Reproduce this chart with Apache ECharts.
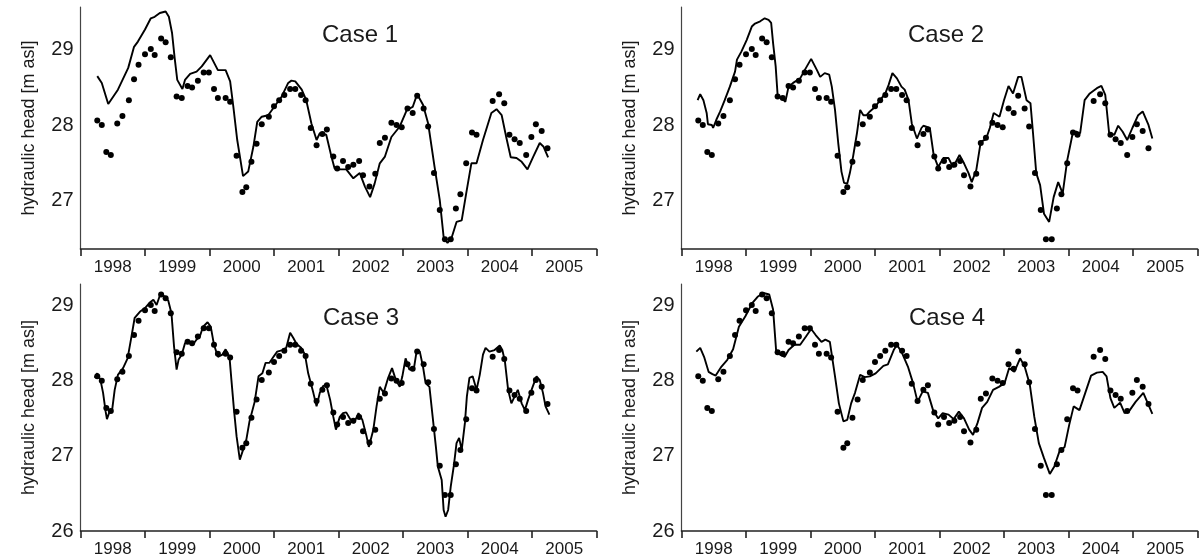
<!DOCTYPE html>
<html>
<head>
<meta charset="utf-8">
<script src="https://cdn.jsdelivr.net/npm/echarts@6/dist/echarts.min.js"></script>
<style>
html,body{margin:0;padding:0;background:#fff;}
#chart{width:1204px;height:558px;}
</style>
</head>
<body>
<div id="chart"></div>
<script>
// ---------- DATA ----------
const yearLabels = ['1998','1999','2000','2001','2002','2003','2004','2005'];
const panelTitles = ['Case 1','Case 2','Case 3','Case 4'];
const yTicksTop = [27, 28, 29];
const yTicksBottom = [26, 27, 28, 29];

// observed hydraulic head [year, m asl] (same in every panel)
const observed = [
[1998.26,28.06],[1998.33,28.00],[1998.40,27.64],[1998.47,27.60],[1998.57,28.02],[1998.65,28.12],
[1998.75,28.33],[1998.83,28.61],[1998.90,28.80],[1999.00,28.94],[1999.09,29.01],[1999.15,28.93],
[1999.25,29.15],[1999.32,29.10],[1999.40,28.90],[1999.49,28.38],[1999.57,28.36],[1999.66,28.52],
[1999.73,28.50],[1999.82,28.59],[1999.91,28.70],[1999.99,28.70],[2000.07,28.48],[2000.13,28.36],
[2000.25,28.36],[2000.32,28.31],[2000.42,27.59],[2000.51,27.11],[2000.57,27.17],[2000.65,27.51],
[2000.73,27.75],[2000.81,28.01],[2000.92,28.11],[2001.00,28.25],[2001.08,28.33],[2001.16,28.40],
[2001.25,28.48],[2001.33,28.48],[2001.42,28.40],[2001.49,28.33],[2001.57,27.96],[2001.66,27.73],
[2001.75,27.88],[2001.82,27.94],[2001.92,27.58],[2001.98,27.42],[2002.07,27.52],[2002.15,27.44],
[2002.23,27.47],[2002.32,27.52],[2002.38,27.33],[2002.48,27.18],[2002.57,27.35],[2002.64,27.76],
[2002.72,27.83],[2002.82,28.03],[2002.90,28.00],[2002.98,27.97],[2003.07,28.22],[2003.15,28.16],
[2003.22,28.39],[2003.32,28.22],[2003.39,27.98],[2003.48,27.36],[2003.57,26.87],[2003.65,26.48],
[2003.74,26.48],[2003.82,26.89],[2003.89,27.08],[2003.98,27.49],[2004.07,27.90],[2004.14,27.87],
[2004.39,28.32],[2004.49,28.41],[2004.57,28.29],[2004.65,27.87],[2004.73,27.81],[2004.81,27.76],
[2004.91,27.60],[2004.99,27.84],[2005.06,28.01],[2005.15,27.92],[2005.24,27.69]
];

// simulated hydraulic head, Case 1
const case1 = [
[1998.26,28.65],[1998.33,28.56],[1998.43,28.28],[1998.46,28.26],[1998.58,28.47],[1998.74,28.76],
[1998.83,29.04],[1998.89,29.11],[1999.00,29.27],[1999.09,29.42],[1999.15,29.44],[1999.23,29.49],
[1999.32,29.51],[1999.37,29.44],[1999.42,29.22],[1999.46,28.89],[1999.50,28.60],[1999.58,28.48],
[1999.62,28.60],[1999.70,28.68],[1999.80,28.71],[1999.88,28.78],[2000.01,28.93],[2000.13,28.73],
[2000.25,28.73],[2000.32,28.58],[2000.37,28.24],[2000.43,27.80],[2000.52,27.32],[2000.60,27.38],
[2000.68,27.71],[2000.74,28.04],[2000.81,28.11],[2000.91,28.13],[2001.01,28.25],[2001.12,28.38],
[2001.22,28.56],[2001.27,28.59],[2001.33,28.58],[2001.43,28.47],[2001.50,28.33],[2001.58,28.02],
[2001.66,27.80],[2001.71,27.89],[2001.81,27.87],[2001.89,27.58],[2001.94,27.42],[2002.02,27.41],
[2002.12,27.41],[2002.23,27.29],[2002.33,27.36],[2002.41,27.18],[2002.49,27.04],[2002.56,27.22],
[2002.64,27.49],[2002.72,27.58],[2002.82,27.84],[2002.95,27.98],[2003.06,28.20],[2003.15,28.24],
[2003.22,28.41],[2003.31,28.27],[2003.39,28.02],[2003.49,27.44],[2003.57,27.00],[2003.63,26.51],
[2003.69,26.43],[2003.75,26.49],[2003.83,26.71],[2003.91,26.73],[2003.98,27.09],[2004.06,27.49],
[2004.14,27.49],[2004.24,27.80],[2004.37,28.16],[2004.45,28.21],[2004.53,28.13],[2004.60,27.84],
[2004.67,27.57],[2004.76,27.56],[2004.84,27.51],[2004.93,27.41],[2005.02,27.58],[2005.12,27.76],
[2005.18,27.71],[2005.25,27.57]
];

// simulated hydraulic head, Case 2
const case2 = [
[1998.25,28.33],[1998.29,28.41],[1998.34,28.33],[1998.39,28.16],[1998.41,28.01],[1998.47,28.00],
[1998.49,27.96],[1998.54,28.07],[1998.60,28.18],[1998.67,28.33],[1998.75,28.51],[1998.83,28.71],
[1998.86,28.87],[1998.93,28.98],[1999.01,29.13],[1999.09,29.31],[1999.14,29.35],[1999.22,29.38],
[1999.29,29.42],[1999.35,29.40],[1999.39,29.36],[1999.42,29.09],[1999.46,28.78],[1999.49,28.40],
[1999.55,28.36],[1999.61,28.31],[1999.66,28.51],[1999.73,28.56],[1999.84,28.62],[1999.91,28.73],
[2000.01,28.88],[2000.10,28.73],[2000.15,28.64],[2000.22,28.69],[2000.29,28.67],[2000.33,28.51],
[2000.38,28.20],[2000.43,27.76],[2000.48,27.38],[2000.52,27.23],[2000.57,27.22],[2000.61,27.36],
[2000.66,27.58],[2000.72,27.89],[2000.77,28.20],[2000.82,28.13],[2000.87,28.13],[2000.92,28.18],
[2001.00,28.24],[2001.08,28.33],[2001.16,28.42],[2001.21,28.53],[2001.27,28.69],[2001.34,28.62],
[2001.41,28.51],[2001.46,28.47],[2001.52,28.33],[2001.57,28.02],[2001.65,27.82],[2001.72,27.96],
[2001.75,27.99],[2001.85,27.96],[2001.91,27.60],[2001.98,27.44],[2002.06,27.56],[2002.14,27.56],
[2002.21,27.44],[2002.31,27.60],[2002.38,27.49],[2002.45,27.36],[2002.50,27.24],[2002.57,27.40],
[2002.64,27.78],[2002.72,27.81],[2002.78,27.96],[2002.84,28.16],[2002.93,28.11],[2003.00,28.33],
[2003.07,28.52],[2003.14,28.42],[2003.22,28.64],[2003.27,28.64],[2003.35,28.33],[2003.41,28.29],
[2003.45,27.89],[2003.50,27.36],[2003.56,27.20],[2003.62,26.82],[2003.70,26.71],[2003.77,27.04],
[2003.84,27.24],[2003.91,27.09],[2003.98,27.53],[2004.07,27.91],[2004.13,27.91],[2004.18,27.89],
[2004.25,28.33],[2004.33,28.42],[2004.44,28.49],[2004.51,28.52],[2004.57,28.40],[2004.63,27.89],
[2004.71,27.87],[2004.77,27.99],[2004.84,27.91],[2004.91,27.80],[2004.99,27.96],[2005.08,28.13],
[2005.15,28.18],[2005.24,28.00],[2005.30,27.82]
];

// simulated hydraulic head, Case 3
const case3 = [
[1998.22,28.04],[1998.26,28.10],[1998.31,28.01],[1998.35,27.84],[1998.39,27.59],[1998.41,27.49],
[1998.45,27.59],[1998.49,27.61],[1998.53,27.88],[1998.58,28.08],[1998.66,28.17],[1998.73,28.30],
[1998.79,28.59],[1998.84,28.84],[1998.92,28.92],[1999.00,28.97],[1999.07,29.04],[1999.13,29.08],
[1999.18,29.01],[1999.24,29.16],[1999.31,29.12],[1999.36,29.07],[1999.41,28.90],[1999.45,28.46],
[1999.49,28.15],[1999.52,28.28],[1999.57,28.35],[1999.62,28.50],[1999.67,28.53],[1999.75,28.49],
[1999.80,28.55],[1999.85,28.59],[1999.90,28.72],[1999.97,28.78],[2000.02,28.72],[2000.07,28.48],
[2000.13,28.32],[2000.20,28.35],[2000.25,28.42],[2000.31,28.32],[2000.34,28.01],[2000.38,27.61],
[2000.42,27.26],[2000.47,26.95],[2000.52,27.08],[2000.57,27.21],[2000.62,27.46],[2000.70,27.72],
[2000.76,28.06],[2000.82,28.10],[2000.87,28.24],[2000.93,28.24],[2001.00,28.33],[2001.05,28.39],
[2001.13,28.41],[2001.19,28.44],[2001.25,28.64],[2001.30,28.57],[2001.35,28.49],[2001.42,28.44],
[2001.48,28.35],[2001.53,28.10],[2001.61,27.84],[2001.66,27.66],[2001.71,27.84],[2001.76,27.93],
[2001.81,27.95],[2001.87,27.75],[2001.92,27.52],[2001.96,27.35],[2002.02,27.52],[2002.07,27.57],
[2002.12,27.58],[2002.19,27.48],[2002.24,27.44],[2002.31,27.57],[2002.37,27.48],[2002.43,27.28],
[2002.47,27.12],[2002.54,27.35],[2002.59,27.66],[2002.64,27.92],[2002.70,27.84],[2002.77,28.04],
[2002.83,28.17],[2002.89,28.01],[2002.95,27.92],[2002.99,28.06],[2003.04,28.30],[2003.10,28.15],
[2003.17,28.17],[2003.21,28.39],[2003.26,28.39],[2003.31,28.19],[2003.35,27.97],[2003.41,27.92],
[2003.46,27.52],[2003.51,27.12],[2003.54,26.86],[2003.60,26.68],[2003.63,26.28],[2003.66,26.19],
[2003.70,26.28],[2003.74,26.59],[2003.79,26.88],[2003.83,27.17],[2003.87,27.24],[2003.91,27.08],
[2003.96,27.44],[2003.99,27.79],[2004.03,28.04],[2004.08,28.06],[2004.14,27.88],[2004.19,28.08],
[2004.24,28.35],[2004.28,28.44],[2004.34,28.39],[2004.42,28.41],[2004.50,28.47],[2004.54,28.41],
[2004.58,28.26],[2004.63,27.88],[2004.68,27.70],[2004.73,27.79],[2004.78,27.88],[2004.84,27.70],
[2004.89,27.61],[2004.94,27.75],[2005.01,27.92],[2005.07,28.06],[2005.12,28.01],[2005.17,27.84],
[2005.21,27.66],[2005.27,27.55]
];

// simulated hydraulic head, Case 4
const case4 = [
[1998.23,28.39],[1998.29,28.44],[1998.35,28.32],[1998.42,28.12],[1998.48,28.09],[1998.53,28.07],
[1998.62,28.19],[1998.71,28.28],[1998.80,28.42],[1998.89,28.72],[1998.99,28.86],[1999.10,29.04],
[1999.18,29.12],[1999.27,29.17],[1999.36,29.15],[1999.42,28.95],[1999.47,28.37],[1999.53,28.35],
[1999.60,28.32],[1999.66,28.41],[1999.75,28.48],[1999.84,28.48],[1999.93,28.59],[2000.01,28.69],
[2000.08,28.61],[2000.17,28.52],[2000.23,28.55],[2000.30,28.52],[2000.38,28.06],[2000.44,27.70],
[2000.51,27.46],[2000.57,27.48],[2000.63,27.70],[2000.69,27.84],[2000.77,28.08],[2000.84,28.05],
[2000.92,28.06],[2001.01,28.10],[2001.13,28.20],[2001.20,28.22],[2001.29,28.41],[2001.34,28.48],
[2001.42,28.37],[2001.51,28.19],[2001.59,27.97],[2001.66,27.72],[2001.74,27.86],[2001.82,27.84],
[2001.90,27.61],[2001.98,27.50],[2002.05,27.57],[2002.14,27.55],[2002.22,27.49],[2002.30,27.59],
[2002.38,27.50],[2002.46,27.35],[2002.52,27.28],[2002.59,27.44],[2002.66,27.64],[2002.74,27.72],
[2002.83,27.88],[2002.92,27.92],[2003.01,27.97],[2003.08,28.17],[2003.16,28.12],[2003.25,28.30],
[2003.32,28.19],[2003.40,27.95],[2003.47,27.52],[2003.54,27.17],[2003.62,26.97],[2003.71,26.76],
[2003.78,26.86],[2003.86,27.06],[2003.94,27.12],[2004.01,27.41],[2004.08,27.66],[2004.17,27.61],
[2004.26,27.84],[2004.35,28.07],[2004.44,28.11],[2004.53,28.12],[2004.59,28.06],[2004.65,27.77],
[2004.71,27.64],[2004.80,27.71],[2004.87,27.57],[2004.95,27.61],[2005.04,27.72],[2005.16,27.84],
[2005.22,27.72],[2005.30,27.56]
];

const simulated = [case1, case2, case3, case4];

// ---------- LAYOUT ----------
const FONT = '"Liberation Sans", Arial, Helvetica, sans-serif';
const TXT = '#1a1a1a';
const grids = [
  {left: 80.5, top: 7,   width: 516, height: 242},
  {left: 681.5, top: 7,  width: 516, height: 242},
  {left: 80.5, top: 284, width: 516, height: 247},
  {left: 681.5, top: 284,width: 516, height: 247}
];
const yRanges = [[26.35, 29.57], [26.35, 29.57], [26, 29.29], [26, 29.29]];
const titlePos = [[360, 35], [946, 35], [361, 318], [947, 318]];

const xAxes = [], yAxes = [], series = [], graphics = [];
grids.forEach((g, i) => {
  xAxes.push({
    type: 'value', gridIndex: i, min: 1998, max: 2006, show: false, position: 'bottom'
  });
  xAxes.push({
    type: 'category', gridIndex: i, data: yearLabels, boundaryGap: true, position: 'bottom',
    axisLine: {show: true, lineStyle: {color: '#222', width: 1.6}},
    axisTick: {show: true, length: 7, alignWithLabel: false, interval: 0, lineStyle: {color: '#222', width: 1.6}},
    axisLabel: {show: true, interval: 0, fontSize: 17, margin: 10, color: TXT, fontFamily: FONT},
    splitLine: {show: false}
  });
  const ticks = i < 2 ? yTicksTop : yTicksBottom;
  yAxes.push({
    type: 'value', gridIndex: i, min: yRanges[i][0], max: yRanges[i][1],
    axisLine: {show: true, lineStyle: {color: '#444', width: 1.2}},
    axisTick: {show: false},
    splitLine: {show: false},
    axisLabel: {
      show: true, customValues: ticks, fontSize: 20, margin: 7, color: TXT, fontFamily: FONT,
      formatter: v => (Math.abs(v - Math.round(v)) < 1e-6 ? String(Math.round(v)) : '')
    },
    name: 'hydraulic head [m asl]', nameLocation: 'middle', nameGap: 42,
    nameTextStyle: {fontSize: 18, color: TXT, fontFamily: FONT}
  });
  series.push({
    type: 'line', xAxisIndex: 2 * i, yAxisIndex: i, data: simulated[i],
    showSymbol: false, symbol: 'none', lineStyle: {color: '#000', width: 1.9}, z: 2, animation: false
  });
  series.push({
    type: 'scatter', xAxisIndex: 2 * i, yAxisIndex: i, data: observed,
    symbol: 'circle', symbolSize: 6, itemStyle: {color: '#000', opacity: 1}, z: 3, animation: false
  });
  graphics.push({
    type: 'text', x: titlePos[i][0], y: titlePos[i][1],
    style: {text: panelTitles[i], fontSize: 24, fontFamily: FONT, fill: TXT, align: 'center', verticalAlign: 'middle'}
  });
});

const chart = echarts.init(document.getElementById('chart'), null, {renderer: 'canvas'});
chart.setOption({
  animation: false,
  backgroundColor: '#fff',
  grid: grids,
  xAxis: xAxes,
  yAxis: yAxes,
  series: series,
  graphic: graphics
});
</script>
</body>
</html>
